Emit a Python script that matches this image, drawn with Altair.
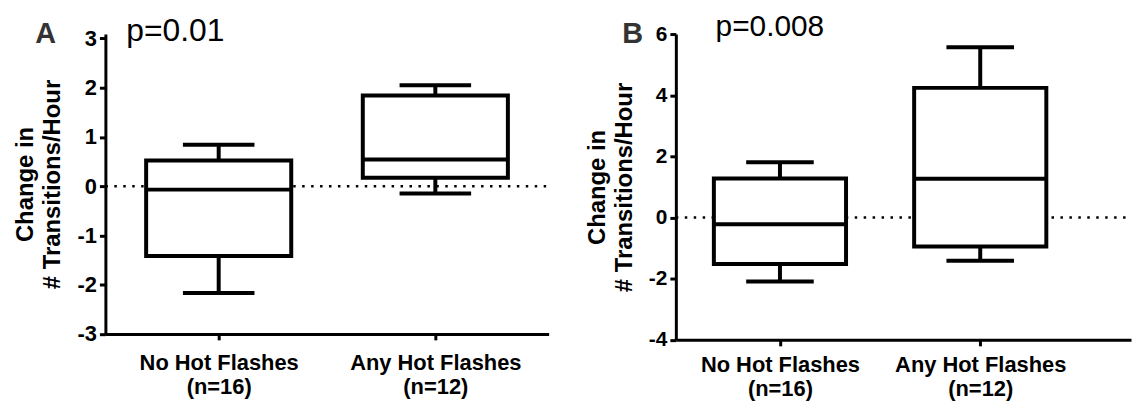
import altair as alt
import pandas as pd

groups = ["No Hot Flashes", "Any Hot Flashes"]
group_n = ["(n=16)", "(n=12)"]

a_min = [-2.17, -0.15]
a_q1 = [-1.42, 0.17]
a_med = [-0.07, 0.54]
a_q3 = [0.52, 1.84]
a_max = [0.84, 2.05]

b_min = [-2.09, -1.41]
b_q1 = [-1.52, -0.95]
b_med = [-0.22, 1.27]
b_q3 = [1.28, 4.24]
b_max = [1.81, 5.57]

a_ticks = [-3, -2.5, -2, -1.5, -1, -0.5, 0, 0.5, 1, 1.5, 2, 2.5, 3]
b_ticks = [-4, -3, -2, -1, 0, 1, 2, 3, 4, 5, 6]

panel_letters = ["A", "B"]
p_values = ["p=0.01", "p=0.008"]
y_title = ["Change in", "# Transitions/Hour"]

FONT = "Liberation Sans"

label_expr = "datum.value == 0 ? ['%s','%s'] : ['%s','%s']" % (
    groups[0], group_n[0], groups[1], group_n[1])


def panel(mins, q1s, meds, q3s, maxs, ticks, ydom, xdom, width, height,
          box_w, cap_w, lab_size, label_every, letter, pval, letter_x,
          p_x, p_y, p_size, title_pad, xlab_pad):
    df = pd.DataFrame({"idx": [0, 1], "group": groups, "lo": mins, "q1": q1s,
                       "med": meds, "q3": q3s, "hi": maxs})
    zero = pd.DataFrame({"zero": [0]})
    xs = alt.Scale(domain=xdom, nice=False, zero=False)
    ys = alt.Scale(domain=ydom, nice=False, zero=False)
    xaxis = alt.Axis(values=[0, 1], labelExpr=label_expr, title=None, grid=False,
                     domainWidth=3, domainColor="black", tickColor="black",
                     tickWidth=3, tickSize=6, labelFont=FONT, labelFontWeight="bold",
                     labelFontSize=22, labelColor="black", labelLineHeight=24,
                     labelPadding=xlab_pad, labelOverlap=False, labelFlush=False)
    yaxis = alt.Axis(values=ticks,
                     labelExpr="datum.value %% %d == 0 ? '' + datum.value : ''" % label_every,
                     title=y_title, grid=False, domainWidth=3, domainColor="black",
                     tickColor="black", tickWidth=3, tickSize=6, labelFont=FONT,
                     labelFontWeight="bold", labelFontSize=lab_size, labelColor="black",
                     labelPadding=3, titleFont=FONT, titleFontSize=24,
                     titleFontWeight="bold", titleColor="black", titleLineHeight=27,
                     titlePadding=title_pad, labelOverlap=False)
    x = alt.X("idx:Q", scale=xs, axis=xaxis)
    zline = alt.Chart(zero).mark_rule(strokeDash=[2.5, 6.5], strokeWidth=2.5,
                                      color="black").encode(
        y=alt.Y("zero:Q", scale=ys, axis=yaxis), x=alt.value(0), x2=alt.value(width))
    base = alt.Chart(df)
    wt = base.mark_rule(strokeWidth=4, color="black").encode(
        x=x, y=alt.Y("q3:Q", scale=ys), y2="hi:Q")
    wb = base.mark_rule(strokeWidth=4, color="black").encode(
        x=x, y=alt.Y("lo:Q", scale=ys), y2="q1:Q")
    box = base.mark_bar(size=box_w - 4, fill="white", stroke="black",
                        strokeWidth=4).encode(x=x, y=alt.Y("q1:Q", scale=ys), y2="q3:Q")
    med = base.mark_tick(orient="horizontal", size=box_w - 4, thickness=4,
                         color="black", opacity=1).encode(x=x, y=alt.Y("med:Q", scale=ys))
    cap_t = base.mark_tick(orient="horizontal", size=cap_w, thickness=4,
                           color="black", opacity=1).encode(x=x, y=alt.Y("hi:Q", scale=ys))
    cap_b = base.mark_tick(orient="horizontal", size=cap_w, thickness=4,
                           color="black", opacity=1).encode(x=x, y=alt.Y("lo:Q", scale=ys))
    lt = alt.Chart(pd.DataFrame({"t": [letter]})).mark_text(
        font=FONT, fontSize=29, fontWeight="bold", color="#333333", align="center",
        baseline="alphabetic").encode(text="t:N", x=alt.value(letter_x), y=alt.value(8.7))
    pt = alt.Chart(pd.DataFrame({"t": [pval]})).mark_text(
        font=FONT, fontSize=p_size, color="black", align="left",
        baseline="alphabetic").encode(text="t:N", x=alt.value(p_x), y=alt.value(p_y))
    return alt.layer(zline, wt, wb, box, med, cap_t, cap_b, lt, pt).properties(
        width=width, height=height)


pa = panel(a_min, a_q1, a_med, a_q3, a_max, a_ticks, [-3, 3.089], [-0.5, 1.5],
           446, 301.7, 150, 72, 22, 1, panel_letters[0], p_values[0],
           -60, 21, 6.7, 32, 13, 13)
pb = panel(b_min, b_q1, b_med, b_q3, b_max, b_ticks, [-4, 6], [-0.495, 1.728],
           458, 307.7, 137, 68, 21, 2, panel_letters[1], p_values[1],
           -43.5, 40, 1.7, 30, 12, 9)

chart = alt.hconcat(pa, pb, spacing=35).properties(
    padding={"left": 5, "top": 2, "right": 0, "bottom": 0}
).configure_view(strokeWidth=0)

chart.save("out.html", embed_options={"renderer": "svg", "actions": False})
